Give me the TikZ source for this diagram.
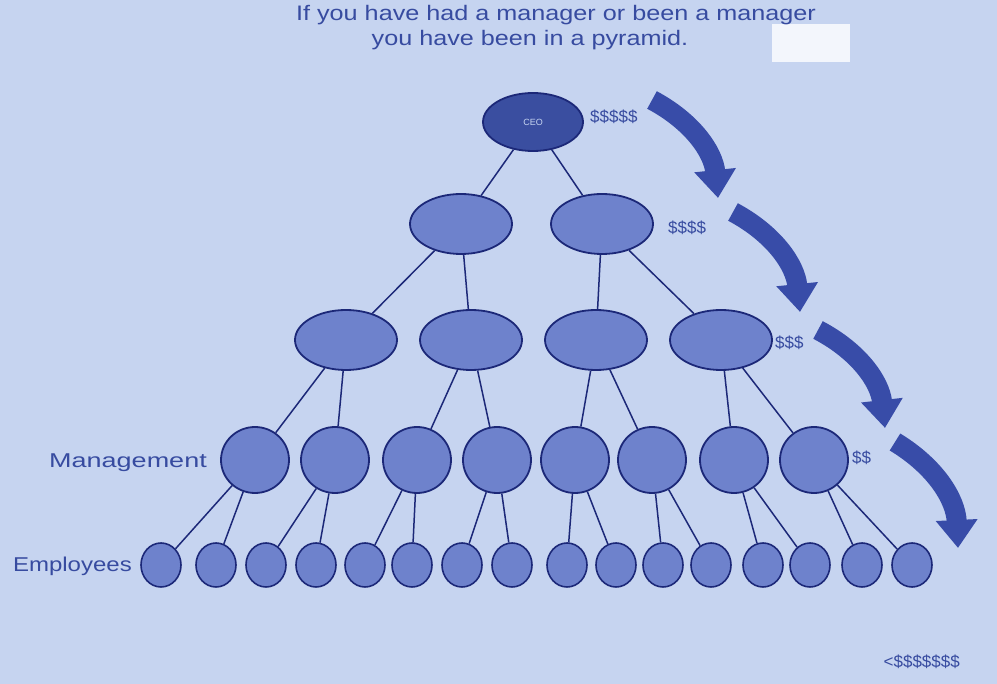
\documentclass[tikz,border=0pt]{standalone}
\usepackage{fontspec}
\usepackage{graphicx}
\setmainfont{Liberation Sans}
\usetikzlibrary{shapes.geometric,arrows.meta}
\definecolor{bgblue}{RGB}{198,212,240}
\definecolor{nodeblue}{RGB}{110,130,204}
\definecolor{ceoblue}{RGB}{58,78,160}
\definecolor{lineblue}{RGB}{28,40,120}
\definecolor{arrblue}{RGB}{56,76,168}
\definecolor{txtblue}{RGB}{55,75,160}
\tikzset{
  x=1pt,y=-1pt,
  big/.style={ellipse,draw=lineblue,line width=1.8pt,fill=nodeblue,minimum width=102pt,minimum height=60pt,inner sep=0pt},
  ceo/.style={big,fill=ceoblue,minimum width=100pt,minimum height=58pt},
  mid/.style={ellipse,draw=lineblue,line width=1.8pt,fill=nodeblue,minimum width=68pt,minimum height=66pt,inner sep=0pt},
  emp/.style={ellipse,draw=lineblue,line width=1.6pt,fill=nodeblue,minimum width=40pt,minimum height=44pt,inner sep=0pt},
  link/.style={draw=lineblue,line width=1.5pt},
  bigarrow/.style={draw=arrblue,line width=20pt,-{Triangle[width=40pt,length=28pt]}},
  lbl/.style={text=txtblue,font=\fontsize{17}{20}\selectfont,inner sep=0pt},
  side/.style={text=txtblue,font=\fontsize{20}{24}\selectfont,inner sep=0pt},
}
\begin{document}
\begin{tikzpicture}
\fill[bgblue] (0,0) rectangle (997,684);
\useasboundingbox (0,0) rectangle (997,684);
\fill[white,opacity=0.8] (772,24) rectangle (850,62);
% title
\node[lbl,font=\fontsize{21}{24}\selectfont] (t1) at (556,15) {\scalebox{1.2}[1]{If you have had a manager or been a manager}};
\node[lbl,font=\fontsize{21}{24}\selectfont] (t2) at (530,40) {\scalebox{1.2}[1]{you have been in a pyramid.}};
% levels
\node[ceo] (c) at (533,122) {\color{bgblue}\small CEO};
\node[big] (v1) at (461,224) {};
\node[big] (v2) at (602,224) {};
\foreach \i/\x in {1/346,2/471,3/596,4/721}{\node[big] (d\i) at (\x,340) {};}
\foreach \i/\x in {1/255,2/335,3/417,4/497,5/575,6/652,7/734,8/814}{\node[mid] (m\i) at (\x,460) {};}
\foreach \i/\x in {1/161,2/216,3/266,4/316,5/365,6/412,7/462,8/512,9/567,10/616,11/663,12/711,13/763,14/810,15/862,16/912}{\node[emp] (e\i) at (\x,565) {};}
% links
\draw[link] (c) -- (v1); \draw[link] (c) -- (v2);
\draw[link] (v1) -- (d1); \draw[link] (v1) -- (d2);
\draw[link] (v2) -- (d3); \draw[link] (v2) -- (d4);
\foreach \i [evaluate=\i as \a using int(2*\i-1), evaluate=\i as \b using int(2*\i)] in {1,...,4}{
  \draw[link] (d\i) -- (m\a); \draw[link] (d\i) -- (m\b);}
\foreach \i [evaluate=\i as \a using int(2*\i-1), evaluate=\i as \b using int(2*\i)] in {1,...,8}{
  \draw[link] (m\i) -- (e\a); \draw[link] (m\i) -- (e\b);}
% labels
\node[side,anchor=east] (lm) at (207,463) {\scalebox{1.35}[1]{Management}};
\node[side,anchor=east] (le) at (132,566) {\scalebox{1.2}[1]{Employees}};
\node[lbl,anchor=west] (s1) at (590,117) {\$\$\$\$\$};
\node[lbl,anchor=west] (s2) at (668,228) {\$\$\$\$};
\node[lbl,anchor=west] (s3) at (775,343) {\$\$\$};
\node[lbl,anchor=west] (s4) at (852,458) {\$\$};
\node[lbl,anchor=east] (s5) at (960,662) {<\$\$\$\$\$\$\$};
% arrows
\coordinate (a1s) at (652,100); \coordinate (a1e) at (718,198);
\coordinate (a2s) at (733,212); \coordinate (a2e) at (800,312);
\coordinate (a3s) at (818,330); \coordinate (a3e) at (885,428);
\coordinate (a4s) at (895,442); \coordinate (a4e) at (958,548);
\draw[bigarrow] (a1s) to[bend left=28] (a1e);
\draw[bigarrow] (a2s) to[bend left=28] (a2e);
\draw[bigarrow] (a3s) to[bend left=28] (a3e);
\draw[bigarrow] (a4s) to[bend left=28] (a4e);
\end{tikzpicture}
\end{document}
